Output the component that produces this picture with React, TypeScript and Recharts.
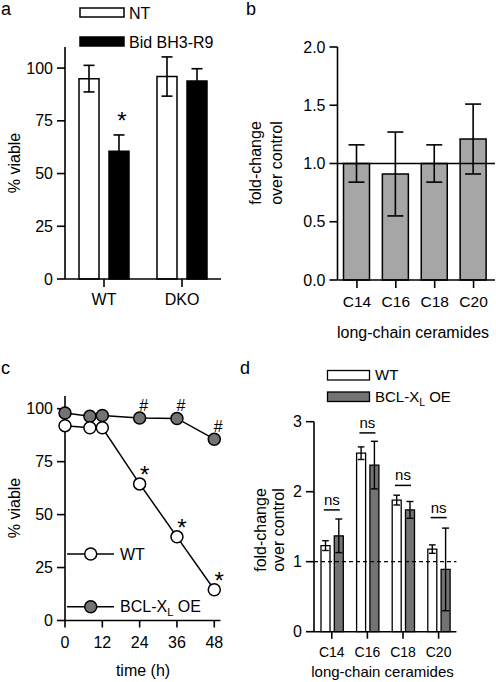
import React from 'react';
import {
  BarChart, Bar, XAxis, YAxis, ErrorBar, ReferenceLine, LineChart, Line,
  LabelList, ComposedChart, Scatter
} from 'recharts';

const FONT = '"Liberation Sans", Arial, Helvetica, sans-serif';

// panel a - viability after Bid BH3-R9
const aCats = ['WT', 'DKO'];
const aNt = [95, 96];
const aNtErr = [6.3, 9.3];
const aBid = [60.6, 93.9];
const aBidErr = [7.7, 5.8];
const aBidMark = ['*', ''];
const aTicks = [0, 25, 50, 75, 100];

// panel b - ceramides fold change
const cerCats = ['C14', 'C16', 'C18', 'C20'];
const bFold = [1.0, 0.91, 1.0, 1.21];
const bFoldErr = [0.16, 0.36, 0.16, 0.3];
const bTicks = [0, 0.5, 1, 1.5, 2];

// panel c - time course
const hours = [0, 8, 12, 24, 36, 48];
const cWt = [92, 91, 91, 64.5, 39.5, 14.5];
const cBcl = [98, 96.4, 96.8, 95.6, 95.4, 85.6];
const cWtMark = ['', '', '', '*', '*', '*'];
const cBclMark = ['', '', '', '#', '#', '#'];
const hourTicks = [0, 12, 24, 36, 48];

// panel d - ceramides WT vs BCL-XL OE
const dWt = [1.23, 2.55, 1.88, 1.18];
const dWtErr = [0.07, 0.09, 0.07, 0.06];
const dBcl = [1.37, 2.38, 1.74, 0.89];
const dBclErr = [0.24, 0.34, 0.12, 0.59];
const dNsLevel = [1.74, 2.84, 2.09, 1.63];
const dTicks = [0, 1, 2, 3];

const dataA = aCats.map((cat, i) => ({
  cat, nt: aNt[i], ntErr: aNtErr[i], bid: aBid[i], bidErr: aBidErr[i], mark: aBidMark[i],
}));
const dataB = cerCats.map((cat, i) => ({ cat, fold: bFold[i], err: bFoldErr[i] }));
const dataC = hours.map((h, i) => ({
  h, wt: cWt[i], bcl: cBcl[i], wtMark: cWtMark[i], bclMark: cBclMark[i],
}));
const dataD = cerCats.map((cat, i) => ({
  cat, wt: dWt[i], wtErr: dWtErr[i], bcl: dBcl[i], bclErr: dBclErr[i], ns: dNsLevel[i],
}));

const BLACK = '#000';
const GRAY_B = '#a6a6a6';
const GRAY_D = '#737373';
const AX = { stroke: BLACK, strokeWidth: 1.6 };

const tickStyle = (size: number) => ({ fontSize: size, fill: BLACK, fontFamily: FONT });

// axis title (rotated or flat), page coordinates
const AxisTitle = ({ tx, ty, lines, size = 16, rotate = false, lh = 20 }: any) => {
  const n = lines.length;
  return (
    <text
      transform={`translate(${tx},${ty})${rotate ? ' rotate(-90)' : ''}`}
      textAnchor="middle" fontSize={size} fontFamily={FONT} fill={BLACK} stroke="none"
    >
      {lines.map((l: string, i: number) => (
        <tspan key={i} x={0} y={(i - (n - 1) / 2) * lh} dy="0.35em">{l}</tspan>
      ))}
    </text>
  );
};

const Txt = ({ x, y, size = 16, children }: any) => (
  <text x={x} y={y} dy="0.35em" fontSize={size} fontFamily={FONT} fill={BLACK} stroke="none">{children}</text>
);

const BclText = ({ x, y, size = 16 }: any) => (
  <text x={x} y={y} dy="0.35em" fontSize={size} fontFamily={FONT} fill={BLACK} stroke="none">
    BCL-X<tspan fontSize={size * 0.7} dy={4}>L</tspan><tspan dy={-4}> OE</tspan>
  </text>
);

export default function App() {
  return (
    <div style={{ position: 'absolute', left: 0, top: 0, width: 496, height: 682, background: '#fff', fontFamily: FONT }}>
      {/* a */}
      <div style={{ position: 'absolute', left: 0, top: 0 }}>
        <BarChart width={248} height={320} data={dataA} barSize={20} barGap={10}
          margin={{ top: 47, right: 27, bottom: 0, left: 0 }}>
          <XAxis dataKey="cat" axisLine={AX} tickLine={AX} tickSize={8} tickMargin={7}
            tick={tickStyle(16)} height={41} />
          <YAxis domain={[0, 110]} ticks={aTicks} width={65} axisLine={AX} tickLine={AX}
            tickSize={8} tickMargin={4} tick={tickStyle(16)} />
          <Bar dataKey="nt" name="NT" fill="#fff" stroke={BLACK} strokeWidth={1.5} isAnimationActive={false}>
            <ErrorBar dataKey="ntErr" width={5.5} stroke={BLACK} strokeWidth={1.6} direction="y" />
          </Bar>
          <Bar dataKey="bid" name="Bid BH3-R9" fill={BLACK} stroke={BLACK} strokeWidth={1.5} isAnimationActive={false}>
            <ErrorBar dataKey="bidErr" width={5.5} stroke={BLACK} strokeWidth={1.6} direction="y" />
            <LabelList dataKey="mark" content={(p: any) => p.value ? (
              <text x={p.x + p.width / 2 + 3} y={p.y - 22} textAnchor="middle" fontSize={24}
                fontFamily={FONT} fill={BLACK} stroke="none">{p.value}</text>
            ) : null} />
          </Bar>
        </BarChart>
      </div>

      {/* b */}
      <div style={{ position: 'absolute', left: 240, top: 0 }}>
        <BarChart width={256} height={345} data={dataB} barSize={26}
          margin={{ top: 47, right: 1, bottom: 0, left: 0 }}>
          <XAxis dataKey="cat" axisLine={AX} tickLine={AX} tickSize={8} tickMargin={8}
            tick={tickStyle(15.5)} height={65} padding={{ left: 0, right: 2 }} />
          <YAxis domain={[0, 2]} ticks={bTicks} width={97.5} axisLine={AX} tickLine={AX}
            tickSize={8} tickMargin={4} tick={tickStyle(16)}
            tickFormatter={(v: number) => v.toFixed(1)} />
          <Bar dataKey="fold" fill={GRAY_B} stroke={BLACK} strokeWidth={1.5} isAnimationActive={false}>
            <ErrorBar dataKey="err" width={8} stroke={BLACK} strokeWidth={1.6} direction="y" />
          </Bar>
          <ReferenceLine y={1} stroke={BLACK} strokeWidth={1.6} />
        </BarChart>
      </div>

      {/* c */}
      <div style={{ position: 'absolute', left: 0, top: 350 }}>
        <LineChart width={248} height={332} data={dataC}
          margin={{ top: 46, right: 27.5, bottom: 0, left: 0 }}>
          <XAxis dataKey="h" type="number" domain={[0, 50]} ticks={hourTicks} axisLine={AX}
            tickLine={AX} tickSize={7} tickMargin={9} tick={tickStyle(16)} height={61.5} />
          <YAxis domain={[0, 106]} ticks={aTicks} width={65} axisLine={AX} tickLine={AX}
            tickSize={8} tickMargin={4} tick={tickStyle(16)} />
          <Line dataKey="bcl" stroke={BLACK} strokeWidth={1.5} isAnimationActive={false}
            dot={{ r: 6, fill: GRAY_D, stroke: BLACK, strokeWidth: 1.5 }}>
            <LabelList dataKey="bclMark" content={(p: any) => p.value ? (
              <text x={p.x + 4} y={p.y - 13} dy="0.35em" textAnchor="middle" fontSize={16}
                fontFamily={FONT} fill={BLACK} stroke="none">{p.value}</text>
            ) : null} />
          </Line>
          <Line dataKey="wt" stroke={BLACK} strokeWidth={1.5} isAnimationActive={false}
            dot={{ r: 6, fill: '#fff', stroke: BLACK, strokeWidth: 1.5 }}>
            <LabelList dataKey="wtMark" content={(p: any) => p.value ? (
              <text x={p.x + 5} y={p.y - 1} textAnchor="middle" fontSize={24}
                fontFamily={FONT} fill={BLACK} stroke="none">{p.value}</text>
            ) : null} />
          </Line>
        </LineChart>
      </div>

      {/* d */}
      <div style={{ position: 'absolute', left: 240, top: 350 }}>
        <ComposedChart width={256} height={332} data={dataD} barSize={9} barGap={4.3}
          margin={{ top: 71.7, right: 39.6, bottom: 0, left: 0 }}>
          <XAxis dataKey="cat" axisLine={AX} tickLine={AX} tickSize={7} tickMargin={8}
            tick={tickStyle(14)} height={50.3} />
          <YAxis domain={[0, 3]} ticks={dTicks} width={74} axisLine={AX} tickLine={AX}
            tickSize={8} tickMargin={4} tick={tickStyle(16)} />
          <ReferenceLine y={1} stroke={BLACK} strokeWidth={1.3} strokeDasharray="4 3" />
          <Bar dataKey="wt" fill="#fff" stroke={BLACK} strokeWidth={1.3} isAnimationActive={false}>
            <ErrorBar dataKey="wtErr" width={3.3} stroke={BLACK} strokeWidth={1.4} direction="y" />
          </Bar>
          <Bar dataKey="bcl" fill={GRAY_D} stroke={BLACK} strokeWidth={1.3} isAnimationActive={false}>
            <ErrorBar dataKey="bclErr" width={3.5} stroke={BLACK} strokeWidth={1.4} direction="y" />
          </Bar>
          <Scatter dataKey="ns" isAnimationActive={false}
            shape={(p: any) => (
              <g>
                <line x1={p.cx - 8} x2={p.cx + 8} y1={p.cy} y2={p.cy} stroke={BLACK} strokeWidth={1.5} />
                <text x={p.cx} y={p.cy - 5} textAnchor="middle" fontSize={15} fontFamily={FONT}
                  fill={BLACK} stroke="none">ns</text>
              </g>
            )} />
        </ComposedChart>
      </div>

      {/* legends, axis titles and panel letters */}
      <svg width={496} height={682} style={{ position: 'absolute', left: 0, top: 0, pointerEvents: 'none' }}>
        <text x={1} y={15} fontSize={18} fontFamily={FONT}>a</text>
        <text x={246} y={15} fontSize={18} fontFamily={FONT}>b</text>
        <text x={1} y={374} fontSize={18} fontFamily={FONT}>c</text>
        <text x={240} y={374} fontSize={18} fontFamily={FONT}>d</text>

        <rect x={80} y={8} width={44} height={9} fill="#fff" stroke={BLACK} strokeWidth={1.5} />
        <Txt x={129} y={13}>NT</Txt>
        <rect x={80} y={37} width={44} height={9} fill={BLACK} stroke={BLACK} strokeWidth={1.5} />
        <Txt x={129} y={42}>Bid BH3-R9</Txt>
        <AxisTitle tx={14} ty={163} lines={['% viable']} rotate />

        <AxisTitle tx={413} ty={332} lines={['long-chain ceramides']} />
        <AxisTitle tx={266} ty={163} lines={['fold-change', 'over control']} rotate lh={21} />

        <line x1={67} x2={114} y1={554} y2={554} stroke={BLACK} strokeWidth={1.5} />
        <circle cx={90.7} cy={554} r={6} fill="#fff" stroke={BLACK} strokeWidth={1.5} />
        <Txt x={120} y={554}>WT</Txt>
        <line x1={67} x2={114} y1={606.7} y2={606.7} stroke={BLACK} strokeWidth={1.5} />
        <circle cx={90.7} cy={606.7} r={6} fill={GRAY_D} stroke={BLACK} strokeWidth={1.5} />
        <BclText x={120} y={606.7} />
        <AxisTitle tx={143} ty={670} lines={['time (h)']} />
        <AxisTitle tx={14} ty={508} lines={['% viable']} rotate />

        <rect x={327.5} y={370.5} width={42} height={9.5} fill="#fff" stroke={BLACK} strokeWidth={1.3} />
        <Txt x={375} y={375} size={15}>WT</Txt>
        <rect x={327.5} y={392} width={42} height={9.5} fill={GRAY_D} stroke={BLACK} strokeWidth={1.3} />
        <BclText x={375} y={396.5} size={15} />
        <AxisTitle tx={382.5} ty={671.7} lines={['long-chain ceramides']} size={15} />
        <AxisTitle tx={269} ty={530} lines={['fold-change', 'over control']} rotate lh={18} />
      </svg>
    </div>
  );
}
